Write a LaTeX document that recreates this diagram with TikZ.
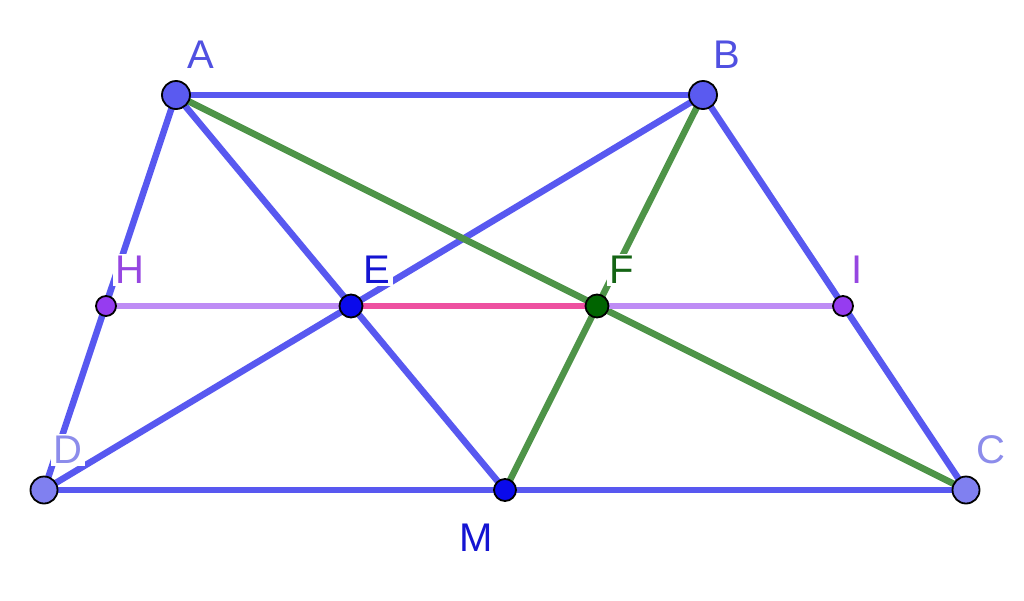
\documentclass[tikz,border=0pt]{standalone}
\usepackage{fontspec}
\setmainfont{Liberation Sans}
\definecolor{bl}{RGB}{88,88,240}
\definecolor{gr}{RGB}{78,148,72}
\definecolor{pk}{RGB}{238,80,160}
\definecolor{lp}{RGB}{190,140,245}
\definecolor{ptA}{RGB}{90,90,240}
\definecolor{ptD}{RGB}{128,128,240}
\definecolor{ptE}{RGB}{10,10,235}
\definecolor{ptF}{RGB}{0,100,0}
\definecolor{ptH}{RGB}{150,60,240}
\definecolor{lbA}{RGB}{80,80,225}
\definecolor{lbD}{RGB}{140,140,235}
\definecolor{lbE}{RGB}{20,20,210}
\definecolor{lbF}{RGB}{20,100,20}
\definecolor{lbH}{RGB}{150,70,225}
\begin{document}
\begin{tikzpicture}[x=1pt,y=-1pt,
  seg/.style={line width=6.5pt},
  pt/.style={circle,draw=black,line width=1.8pt,inner sep=0pt},
  lbl/.style={font=\fontsize{40}{42}\selectfont,fill=white,inner sep=2.5pt}]
\useasboundingbox (0,0) rectangle (1024,600);
\coordinate (A) at (176,95);
\coordinate (B) at (703,95);
\coordinate (C) at (966,490);
\coordinate (D) at (44,490);
\coordinate (M) at (505,490);
\coordinate (E) at (351,306);
\coordinate (F) at (597,306);
\coordinate (H) at (106,306);
\coordinate (I) at (843,306);
% blue segments
\draw[seg,bl] (A) -- (B);
\draw[seg,bl] (A) -- (D);
\draw[seg,bl] (B) -- (C);
\draw[seg,bl] (D) -- (C);
\draw[seg,bl] (A) -- (M);
\draw[seg,bl] (B) -- (D);
% green segments
\draw[seg,gr] (A) -- (C);
\draw[seg,gr] (B) -- (M);
% mid line
\draw[seg,lp] (H) -- (E);
\draw[seg,lp] (F) -- (I);
\draw[seg,pk] (E) -- (F);
% labels
\node[lbl,text=lbA] (lA) at (201,55) {A};
\node[lbl,text=lbA] (lB) at (727,55) {B};
\node[lbl,text=lbD] (lC) at (991,450) {C};
\node[lbl,text=lbD] (lD) at (68,450) {D};
\node[lbl,text=lbE] (lE) at (377,270) {E};
\node[lbl,text=lbF] (lF) at (622,270) {F};
\node[lbl,text=lbH] (lH) at (130,270) {H};
\node[lbl,text=lbH] (lI) at (857,270) {I};
\node[lbl,text=lbE] (lM) at (476,538) {M};
% points
\node[pt,fill=ptA,minimum size=28pt] (pA) at (A) {};
\node[pt,fill=ptA,minimum size=28pt] (pB) at (B) {};
\node[pt,fill=ptD,minimum size=27pt] (pC) at (C) {};
\node[pt,fill=ptD,minimum size=27pt] (pD) at (D) {};
\node[pt,fill=ptE,minimum size=23pt] (pE) at (E) {};
\node[pt,fill=ptE,minimum size=22pt] (pM) at (M) {};
\node[pt,fill=ptF,minimum size=23pt] (pF) at (F) {};
\node[pt,fill=ptH,minimum size=20pt] (pH) at (H) {};
\node[pt,fill=ptH,minimum size=20pt] (pI) at (I) {};
\end{tikzpicture}
\end{document}
